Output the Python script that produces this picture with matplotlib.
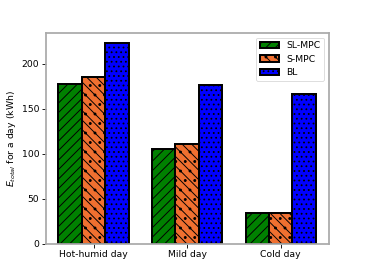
import matplotlib
matplotlib.use('Agg')
import matplotlib.pyplot as plt
import numpy as np

days = ['Hot-humid day', 'Mild day', 'Cold day']
sl_mpc = [177, 105, 34]
s_mpc = [185, 111, 34]
bl = [223, 176, 166]

dpi = 57
plt.rcParams['font.size'] = 11.7
plt.rcParams['xtick.major.size'] = 4.5
plt.rcParams['ytick.major.size'] = 4.5
plt.rcParams['xtick.major.width'] = 1.1
plt.rcParams['ytick.major.width'] = 1.1
plt.rcParams['hatch.linewidth'] = 1.2

fig, ax = plt.subplots(figsize=(365 / dpi, 274 / dpi), dpi=dpi)
x = np.arange(len(days))
w = 0.25

ax.bar(x - w, sl_mpc, w, color='green', edgecolor='black', hatch='//', linewidth=2.5, label='SL-MPC')
ax.bar(x, s_mpc, w, color='#f07030', edgecolor='black', hatch='\\\\.', linewidth=2.5, label='S-MPC')
ax.bar(x + w, bl, w, color='blue', edgecolor='black', hatch='..', linewidth=2.5, label='BL')

ax.set_xticks(x)
ax.set_xticklabels(days)
ax.set_ylabel('$E_{total}$ for a day (kWh)')
for s in ax.spines.values():
    s.set_color('#aaaaaa')
    s.set_linewidth(2.2)
ax.legend(loc='upper right')

fig.savefig('out.png', dpi=dpi)
